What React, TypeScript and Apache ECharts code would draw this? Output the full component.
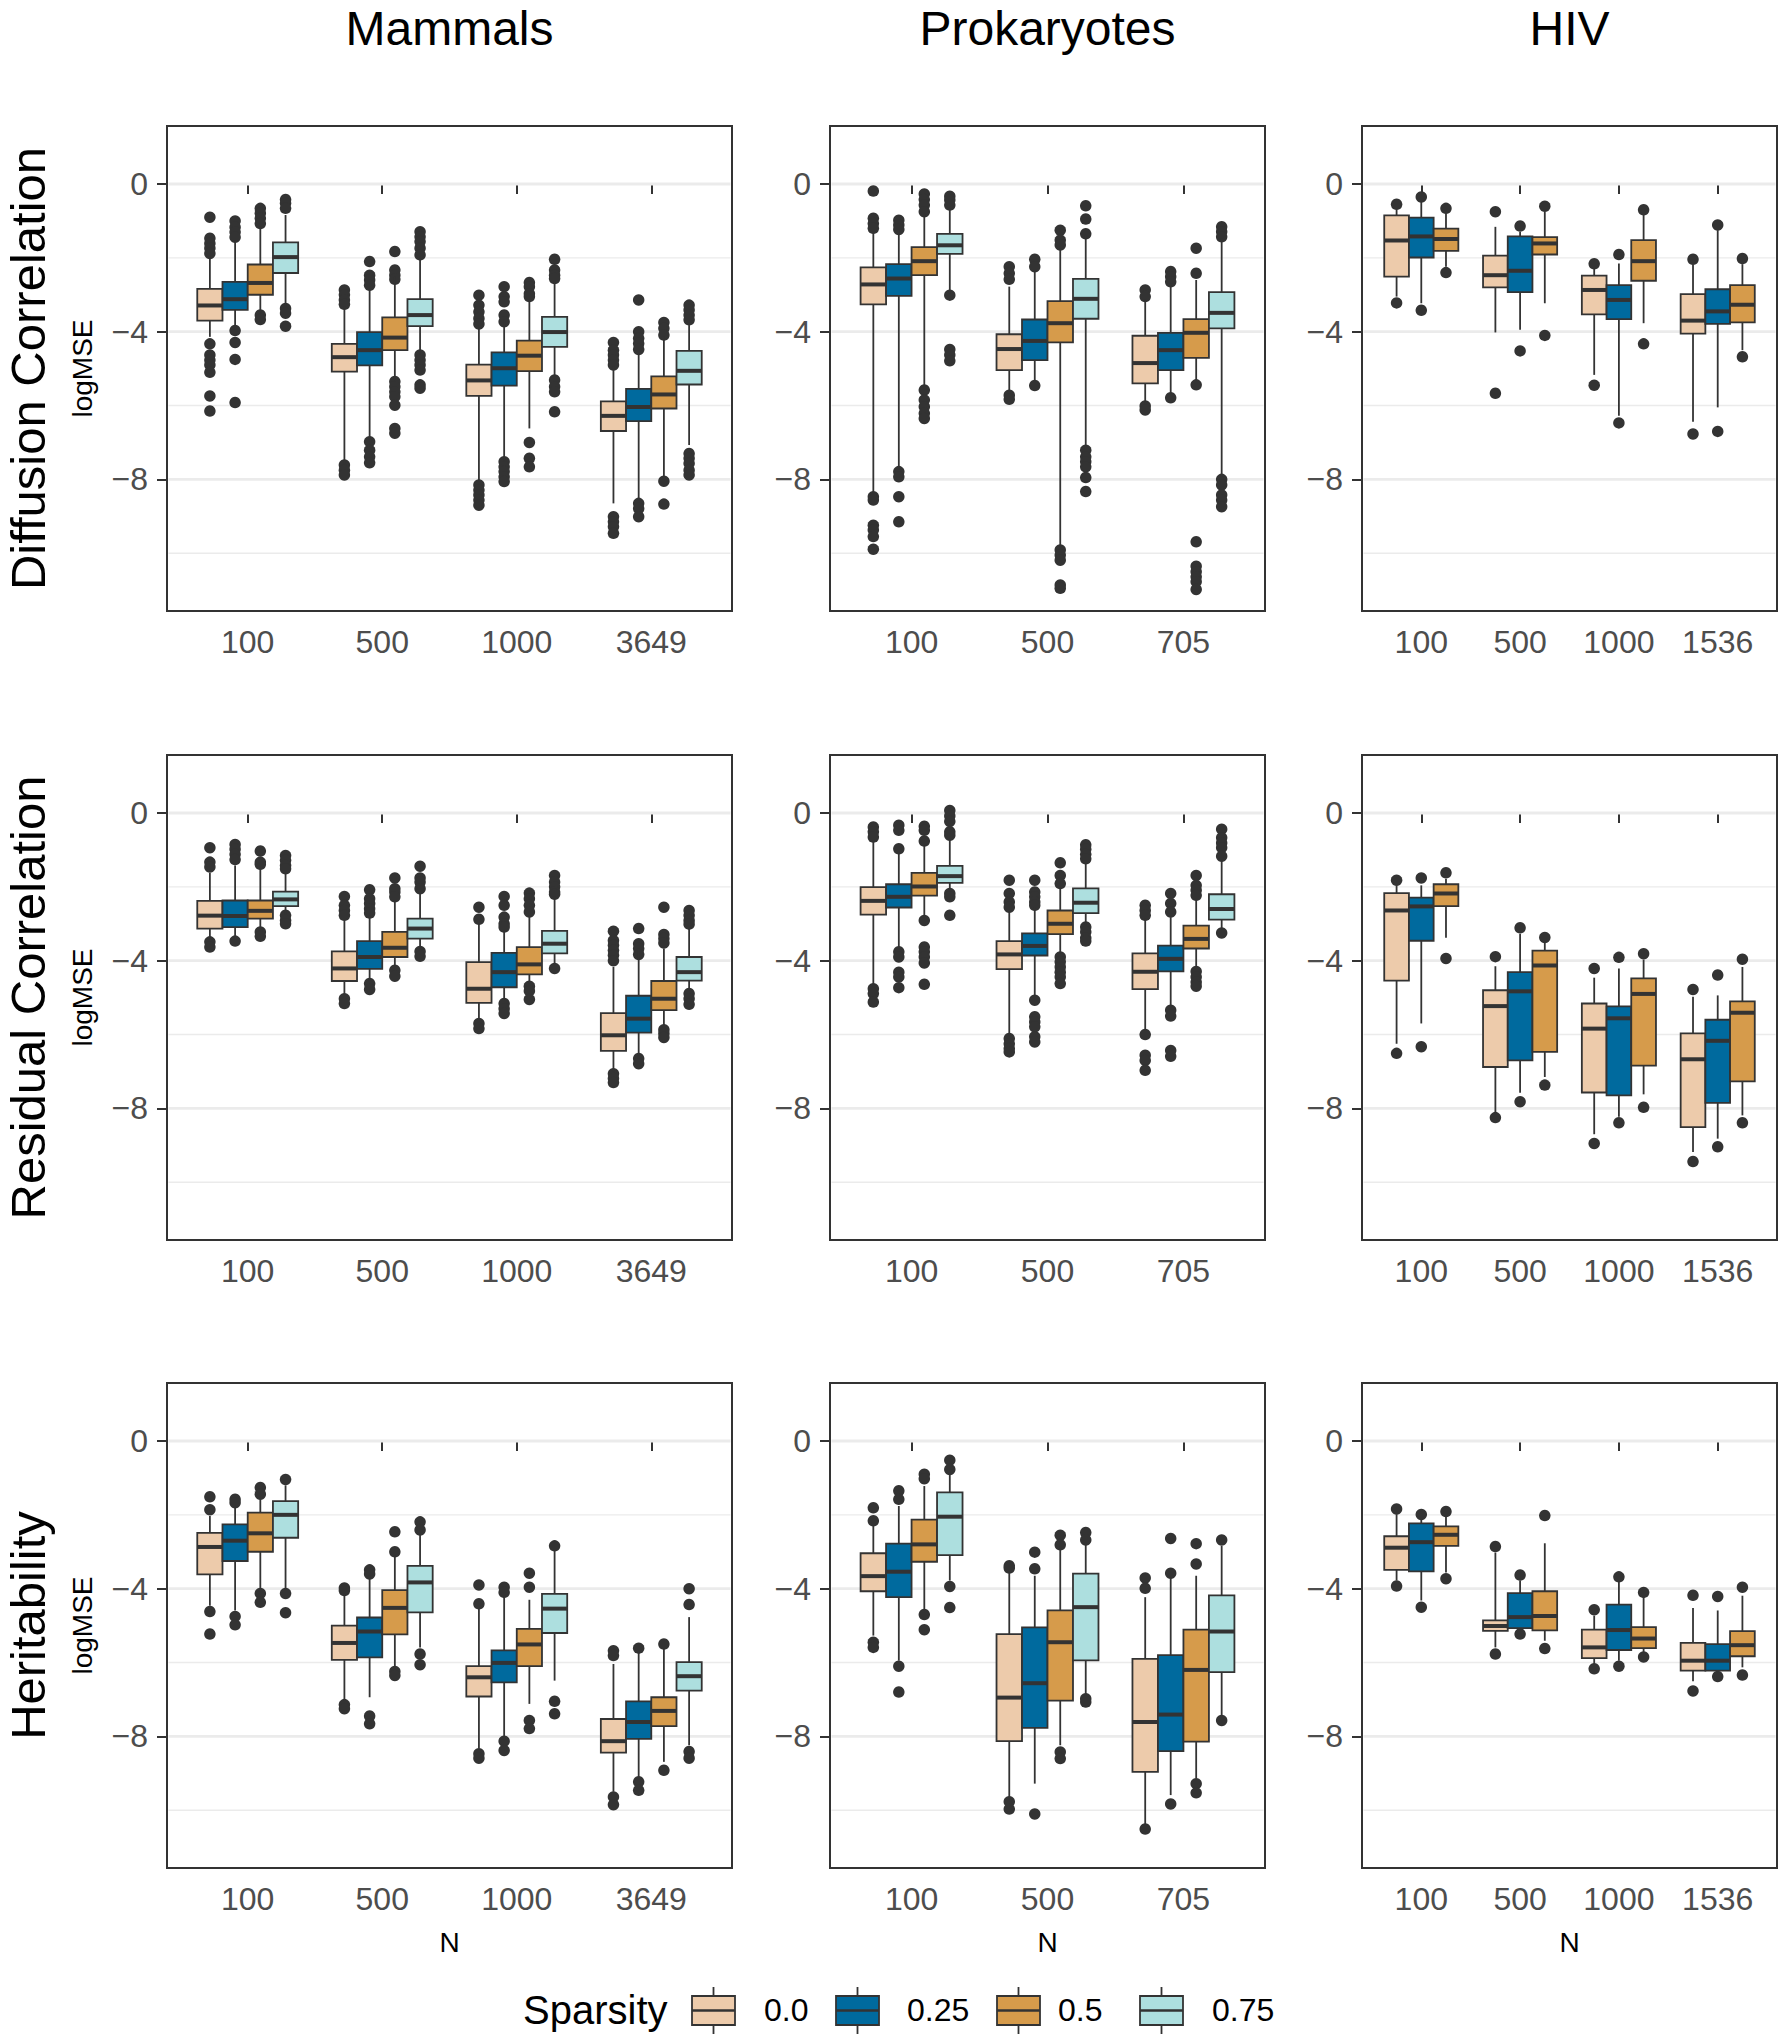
import React, { useEffect, useRef } from 'react';
import * as echarts from 'echarts';

const FONT = '"Liberation Sans", Arial, Helvetica, sans-serif';

// ---------- categories / labels ----------
const datasetNames = ['Mammals', 'Prokaryotes', 'HIV'];
const measureNames = ['Diffusion Correlation', 'Residual Correlation', 'Heritability'];
const nMammals = ['100', '500', '1000', '3649'];
const nProk = ['100', '500', '705'];
const nHIV = ['100', '500', '1000', '1536'];
const sparsityLevels = ['0.0', '0.25', '0.5', '0.75'];
const sparsityColors = ['#EDCBAB', '#006A9E', '#D69B4B', '#ADDFDF'];
const yTicks = [-8, -4, 0];
const yMinorBreaks = [-10, -6, -2];

// ---------- data: per N, per sparsity: [lowerWhisker, Q1, median, Q3, upperWhisker] ----------
// Diffusion correlation
const dcMammals = [
  [[-4.14, -3.70, -3.29, -2.84, -2.01], [-3.82, -3.41, -3.12, -2.65, -1.52], [-3.49, -3.00, -2.68, -2.18, -1.16], [-3.32, -2.41, -1.98, -1.58, -0.84]],
  [[-7.57, -5.08, -4.69, -4.33, -3.32], [-6.89, -4.91, -4.50, -4.01, -2.87], [-5.31, -4.50, -4.16, -3.61, -2.51], [-4.59, -3.85, -3.55, -3.12, -2.06]],
  [[-8.06, -5.74, -5.32, -4.89, -3.82], [-7.48, -5.46, -4.99, -4.56, -3.68], [-6.62, -5.07, -4.65, -4.24, -3.15], [-5.22, -4.41, -4.01, -3.60, -2.60]],
  [[-8.65, -6.69, -6.28, -5.89, -4.95], [-8.56, -6.42, -6.04, -5.55, -4.59], [-7.93, -6.08, -5.70, -5.21, -4.14], [-7.07, -5.43, -5.06, -4.52, -3.82]],
];
const dcMammalsOut = [
  [[-0.90, -1.47, -1.61, -1.74, -1.88, -4.33, -4.63, -4.77, -4.90, -5.10, -5.74, -6.15], [-1.00, -1.17, -1.30, -1.44, -3.97, -4.29, -4.75, -5.92], [-0.66, -0.79, -0.93, -1.07, -3.55, -3.67], [-0.42, -0.52, -0.66, -3.37, -3.50, -3.85]],
  [[-2.87, -3.00, -3.14, -3.26, -7.61, -7.75, -7.88], [-2.10, -2.47, -2.60, -2.74, -6.98, -7.21, -7.39, -7.55], [-1.83, -2.33, -2.47, -2.58, -5.35, -5.49, -5.63, -5.76, -5.99, -6.62, -6.75], [-1.29, -1.43, -1.56, -1.74, -1.92, -4.63, -4.77, -4.90, -5.04, -5.44, -5.53]],
  [[-3.01, -3.28, -3.46, -3.64, -3.79, -8.15, -8.29, -8.42, -8.56, -8.70], [-2.78, -3.05, -3.19, -3.55, -3.73, -7.52, -7.66, -7.79, -7.93, -8.06], [-2.67, -2.78, -2.97, -3.05, -7.00, -7.43, -7.66], [-2.04, -2.33, -2.47, -2.56, -5.31, -5.49, -5.63, -6.17]],
  [[-4.29, -4.50, -4.63, -4.77, -4.90, -9.01, -9.15, -9.28, -9.46], [-3.14, -4.00, -4.18, -4.32, -4.48, -8.65, -8.79, -9.01], [-3.75, -3.91, -4.09, -8.05, -8.67], [-3.28, -3.41, -3.55, -3.68, -7.30, -7.43, -7.57, -7.75, -7.88]],
];
const dcProk = [
  [[-8.38, -3.26, -2.72, -2.26, -1.29], [-7.70, -3.03, -2.56, -2.17, -1.25], [-5.49, -2.47, -2.09, -1.71, -0.79], [-2.96, -1.89, -1.66, -1.35, -0.63]],
  [[-5.58, -5.04, -4.47, -4.07, -2.78], [-5.31, -4.77, -4.25, -3.67, -2.37], [-9.82, -4.29, -3.77, -3.17, -1.74], [-7.12, -3.65, -3.11, -2.57, -1.38]],
  [[-5.94, -5.40, -4.85, -4.11, -3.14], [-5.67, -5.04, -4.50, -4.03, -2.69], [-5.31, -4.71, -4.03, -3.66, -2.60], [-7.93, -3.91, -3.49, -2.93, -1.47]],
];
const dcProkOut = [
  [[-0.19, -0.93, -1.07, -1.20, -8.47, -8.56, -9.24, -9.37, -9.55, -9.89], [-0.98, -1.11, -1.23, -7.79, -7.93, -8.47, -9.15], [-0.27, -0.42, -0.57, -0.75, -5.58, -5.85, -6.03, -6.21, -6.35], [-0.33, -0.43, -0.57, -3.01, -4.48, -4.63, -4.79]],
  [[-2.24, -2.42, -2.58, -5.72, -5.83], [-2.04, -2.24, -5.46], [-1.25, -1.52, -1.65, -9.91, -10.05, -10.19, -10.86, -10.95], [-0.59, -0.95, -1.35, -7.21, -7.39, -7.52, -7.66, -7.95, -8.33]],
  [[-2.87, -3.05, -6.01, -6.12], [-2.37, -2.51, -2.65, -5.79], [-1.74, -2.42, -5.44, -9.69, -10.35, -10.50, -10.64, -10.77, -10.98], [-1.16, -1.29, -1.43, -8.00, -8.15, -8.42, -8.56, -8.74]],
];
const dcHIV = [
  [[-3.05, -2.51, -1.53, -0.85, -0.69], [-3.23, -1.99, -1.42, -0.91, -0.48], [-2.24, -1.81, -1.49, -1.21, -0.79]],
  [[-4.02, -2.80, -2.47, -1.94, -1.16], [-3.95, -2.93, -2.35, -1.42, -1.29], [-3.23, -1.91, -1.61, -1.44, -0.75]],
  [[-5.17, -3.53, -2.87, -2.48, -2.28], [-6.28, -3.66, -3.14, -2.74, -2.15], [-3.77, -2.62, -2.09, -1.52, -0.84]],
  [[-6.44, -4.05, -3.70, -2.98, -2.18], [-6.05, -3.79, -3.45, -2.85, -1.25], [-4.50, -3.75, -3.27, -2.74, -2.17]],
];
const dcHIVOut = [
  [[-0.55, -3.22], [-0.35, -3.42], [-0.66, -2.40]],
  [[-0.75, -5.67], [-1.14, -4.52], [-0.60, -4.10]],
  [[-2.16, -5.45], [-1.91, -6.47], [-0.70, -4.33]],
  [[-2.04, -6.77], [-1.11, -6.70], [-2.02, -4.68]],
];

// Residual correlation
const rcMammals = [
  [[-3.40, -3.13, -2.78, -2.38, -1.62], [-3.36, -3.09, -2.79, -2.37, -1.42], [-3.13, -2.86, -2.65, -2.37, -1.51], [-2.73, -2.52, -2.34, -2.13, -1.64]],
  [[-4.94, -4.55, -4.21, -3.75, -2.91], [-4.53, -4.22, -3.90, -3.47, -2.77], [-4.15, -3.90, -3.65, -3.22, -2.36], [-3.67, -3.40, -3.13, -2.86, -2.18]],
  [[-5.55, -5.14, -4.76, -4.04, -3.00], [-5.03, -4.72, -4.31, -3.79, -3.18], [-4.62, -4.37, -4.10, -3.63, -2.77], [-4.08, -3.80, -3.54, -3.19, -2.27]],
  [[-7.01, -6.44, -6.02, -5.42, -4.17], [-6.56, -5.95, -5.57, -4.95, -3.72], [-5.75, -5.34, -5.03, -4.55, -3.67], [-4.80, -4.54, -4.31, -3.90, -3.13]],
];
const rcMammalsOut = [
  [[-0.94, -1.33, -1.46, -3.49, -3.63], [-0.85, -0.98, -1.12, -1.26, -3.47], [-1.03, -1.33, -1.39, -3.22, -3.34], [-1.15, -1.28, -1.42, -1.51, -2.77, -2.91, -3.00]],
  [[-2.26, -2.50, -2.64, -2.77, -5.03, -5.16], [-2.08, -2.32, -2.45, -2.59, -2.71, -4.62, -4.78], [-1.76, -2.05, -2.14, -2.27, -4.26, -4.42], [-1.44, -1.76, -1.87, -2.05, -3.75, -3.88]],
  [[-2.55, -2.88, -5.70, -5.84], [-2.26, -2.50, -2.82, -3.00, -3.09, -5.16, -5.30, -5.43], [-2.17, -2.32, -2.50, -2.68, -4.69, -4.82, -5.05], [-1.69, -1.87, -2.00, -2.14, -2.20, -4.21]],
  [[-3.20, -3.45, -3.58, -3.72, -3.85, -4.00, -7.06, -7.19, -7.30], [-3.13, -3.54, -3.67, -3.83, -6.65, -6.79], [-2.55, -3.29, -3.40, -3.52, -5.87, -5.97, -6.08], [-2.64, -2.77, -2.91, -3.01, -4.89, -5.03, -5.18]],
];
const rcProk = [
  [[-4.67, -2.75, -2.38, -2.01, -0.72], [-3.67, -2.56, -2.27, -1.93, -1.10], [-2.82, -2.24, -1.99, -1.62, -0.88], [-2.09, -1.89, -1.71, -1.43, -0.72]],
  [[-6.06, -4.23, -3.83, -3.47, -2.68], [-4.98, -3.86, -3.60, -3.26, -2.55], [-3.81, -3.28, -3.00, -2.64, -2.05], [-3.04, -2.71, -2.43, -2.04, -1.37]],
  [[-5.88, -4.77, -4.30, -3.80, -2.86], [-5.25, -4.29, -3.95, -3.59, -2.82], [-4.17, -3.67, -3.41, -3.05, -2.36], [-3.13, -2.89, -2.60, -2.20, -1.28]],
];
const rcProkOut = [
  [[-0.38, -0.51, -0.65, -4.76, -4.89, -5.12], [-0.33, -0.47, -0.97, -3.76, -3.90, -4.31, -4.44, -4.73], [-0.36, -0.47, -0.76, -2.91, -3.63, -3.76, -3.90, -4.06, -4.64], [0.07, -0.08, -0.23, -0.51, -0.60, -2.18, -2.27, -2.77]],
  [[-1.82, -2.18, -2.41, -2.55, -6.11, -6.25, -6.38, -6.47], [-1.82, -2.14, -2.27, -2.41, -2.50, -5.07, -5.52, -5.66, -5.79, -6.06, -6.20], [-1.35, -1.69, -1.91, -3.90, -4.03, -4.17, -4.31, -4.44, -4.62], [-0.86, -0.98, -1.12, -1.24, -3.09, -3.22, -3.38, -3.47]],
  [[-2.50, -2.64, -2.77, -6.00, -6.56, -6.70, -6.97], [-2.18, -2.45, -2.68, -5.34, -5.50, -6.43, -6.59], [-1.69, -1.96, -2.09, -2.23, -4.29, -4.44, -4.58, -4.69], [-0.44, -0.67, -0.81, -0.94, -1.17, -3.25]],
];
const rcHIV = [
  [[-6.25, -4.54, -2.64, -2.17, -1.96], [-5.70, -3.46, -2.53, -2.29, -1.96], [-3.38, -2.52, -2.18, -1.93, -1.78]],
  [[-8.10, -6.88, -5.23, -4.80, -4.15], [-7.58, -6.70, -4.83, -4.31, -3.27], [-7.15, -6.47, -4.13, -3.73, -3.52]],
  [[-8.70, -7.57, -5.84, -5.16, -4.46], [-8.23, -7.65, -5.56, -5.24, -4.21], [-7.62, -6.84, -4.90, -4.48, -3.97]],
  [[-9.18, -8.51, -6.67, -5.97, -4.98], [-8.82, -7.85, -6.17, -5.60, -4.94], [-8.19, -7.27, -5.41, -5.10, -4.17]],
];
const rcHIVOut = [
  [[-1.82, -6.51], [-1.76, -6.33], [-1.62, -3.94]],
  [[-3.89, -8.25], [-3.11, -7.82], [-3.37, -7.37]],
  [[-4.21, -8.95], [-3.91, -8.39], [-3.81, -7.97]],
  [[-4.78, -9.44], [-4.39, -9.04], [-3.96, -8.39]],
];

// Heritability
const hMammals = [
  [[-4.46, -3.61, -2.87, -2.49, -2.03], [-4.59, -3.25, -2.70, -2.26, -1.76], [-4.01, -3.00, -2.50, -1.94, -1.58], [-3.99, -2.62, -2.00, -1.63, -1.20]],
  [[-7.07, -5.93, -5.47, -5.00, -4.14], [-6.94, -5.86, -5.16, -4.78, -3.65], [-6.17, -5.24, -4.52, -4.04, -3.11], [-5.59, -4.64, -3.83, -3.38, -2.52]],
  [[-8.33, -6.92, -6.40, -6.10, -4.55], [-8.02, -6.54, -6.01, -5.67, -4.19], [-7.12, -6.10, -5.51, -5.09, -4.30], [-6.49, -5.20, -4.54, -4.14, -2.97]],
  [[-9.50, -8.44, -8.13, -7.53, -6.04], [-9.10, -8.07, -7.61, -7.05, -5.72], [-8.69, -7.72, -7.31, -6.94, -5.63], [-8.24, -6.76, -6.37, -5.99, -4.77]],
];
const hMammalsOut = [
  [[-1.51, -1.86, -4.62, -5.23], [-1.58, -1.67, -4.75, -4.98], [-1.26, -1.44, -4.13, -4.37], [-1.04, -4.13, -4.65]],
  [[-3.98, -4.05, -7.14, -7.25], [-3.49, -3.60, -7.45, -7.66], [-2.46, -3.00, -6.24, -6.35], [-2.19, -2.41, -5.77, -6.06]],
  [[-3.90, -4.41, -8.47, -8.59], [-3.96, -4.10, -8.13, -8.38], [-3.58, -3.96, -7.57, -7.79], [-2.84, -7.05, -7.39]],
  [[-5.68, -5.81, -9.64, -9.85], [-5.61, -9.23, -9.46], [-5.50, -8.92], [-4.00, -4.43, -8.41, -8.59]],
];
const hProk = [
  [[-5.27, -4.07, -3.66, -3.04, -2.30], [-5.95, -4.23, -3.54, -2.78, -1.76], [-4.55, -3.27, -2.80, -2.13, -1.22], [-3.78, -3.09, -2.05, -1.39, -0.90]],
  [[-9.64, -8.13, -6.95, -5.23, -3.56], [-9.28, -7.77, -6.56, -5.05, -3.65], [-8.24, -7.03, -5.45, -4.59, -2.84], [-6.89, -5.94, -4.50, -3.59, -2.75]],
  [[-10.41, -8.96, -7.61, -5.90, -4.23], [-9.59, -8.40, -7.41, -5.80, -3.69], [-9.14, -8.14, -6.20, -5.11, -3.65], [-7.43, -6.26, -5.16, -4.18, -2.84]],
];
const hProkOut = [
  [[-1.81, -2.16, -5.45, -5.59], [-1.35, -1.58, -6.10, -6.80], [-0.90, -1.02, -4.70, -5.11], [-0.52, -0.77, -3.94, -4.51]],
  [[-3.38, -3.44, -9.77, -9.97], [-3.01, -3.46, -10.10], [-2.55, -2.81, -8.42, -8.60], [-2.48, -2.68, -6.98, -7.07]],
  [[-3.71, -3.99, -10.51], [-2.64, -3.58, -9.83], [-2.78, -3.33, -9.28, -9.53], [-2.68, -7.57]],
];
const hHIV = [
  [[-3.78, -3.49, -2.89, -2.58, -1.98], [-4.32, -3.53, -2.74, -2.23, -2.12], [-3.56, -2.84, -2.54, -2.31, -2.05]],
  [[-5.59, -5.14, -5.01, -4.86, -3.02], [-5.07, -5.07, -4.77, -4.12, -3.78], [-5.41, -5.13, -4.74, -4.07, -2.77]],
  [[-6.04, -5.88, -5.59, -5.11, -4.73], [-5.95, -5.66, -5.12, -4.43, -3.81], [-5.72, -5.61, -5.35, -5.04, -4.23]],
  [[-6.51, -6.22, -5.95, -5.47, -4.52], [-6.26, -6.22, -5.95, -5.50, -4.59], [-6.13, -5.83, -5.53, -5.15, -4.19]],
];
const hHIVOut = [
  [[-1.84, -3.93], [-1.99, -4.50], [-1.91, -3.73]],
  [[-2.86, -5.77], [-3.63, -5.23], [-2.02, -5.62]],
  [[-4.57, -6.17], [-3.68, -6.10], [-4.10, -5.85]],
  [[-4.18, -6.77], [-4.21, -6.38], [-3.96, -6.34]],
];

// ---------- layout ----------
const colLeft = [167, 830, 1362];
const colWidth = [565, 435, 415];
const rowTop = [126, 755, 1383];
const panelHeight = 485;
const Y_MIN = -11.565;
const Y_MAX = 1.571;

const panels = [
  { stats: dcMammals, out: dcMammalsOut, cats: nMammals },
  { stats: dcProk, out: dcProkOut, cats: nProk },
  { stats: dcHIV, out: dcHIVOut, cats: nHIV },
  { stats: rcMammals, out: rcMammalsOut, cats: nMammals },
  { stats: rcProk, out: rcProkOut, cats: nProk },
  { stats: rcHIV, out: rcHIVOut, cats: nHIV },
  { stats: hMammals, out: hMammalsOut, cats: nMammals },
  { stats: hProk, out: hProkOut, cats: nProk },
  { stats: hHIV, out: hHIVOut, cats: nHIV },
];

const fmtY = (v: number) => (v < 0 ? '\u2212' + Math.abs(v) : String(v));

function renderGridLine(params: any, api: any) {
  const cs = params.coordSys;
  const p = api.coord([api.value(0), api.value(1)]);
  const major = api.value(2) === 1;
  return {
    type: 'line',
    shape: { x1: cs.x + 1.5, y1: p[1], x2: cs.x + cs.width - 1.5, y2: p[1] },
    style: { stroke: '#EBEBEB', lineWidth: major ? 2.8 : 1.4 },
    silent: true,
  };
}

function renderBox(params: any, api: any) {
  const x = api.value(0);
  const hw = api.value(6);
  const k = api.value(7);
  const lw = api.coord([x, api.value(1)]);
  const q1 = api.coord([x - hw, api.value(2)]);
  const med = api.coord([x, api.value(3)]);
  const q3 = api.coord([x + hw, api.value(4)]);
  const hi = api.coord([x, api.value(5)]);
  const stroke = '#333333';
  return {
    type: 'group',
    children: [
      { type: 'line', shape: { x1: lw[0], y1: lw[1], x2: hi[0], y2: hi[1] }, style: { stroke, lineWidth: 1.8 } },
      {
        type: 'rect',
        shape: { x: q1[0], y: q3[1], width: q3[0] - q1[0], height: q1[1] - q3[1] },
        style: { fill: sparsityColors[k], stroke, lineWidth: 1.8 },
      },
      { type: 'line', shape: { x1: q1[0], y1: med[1], x2: q3[0], y2: med[1] }, style: { stroke, lineWidth: 4 } },
    ],
  };
}

function buildOption() {
  const grid: any[] = [];
  const xAxis: any[] = [];
  const yAxis: any[] = [];
  const series: any[] = [];

  panels.forEach((p, i) => {
    const row = Math.floor(i / 3);
    const col = i % 3;
    grid.push({
      left: colLeft[col],
      top: rowTop[row],
      width: colWidth[col],
      height: panelHeight,
      show: true,
      backgroundColor: '#ffffff',
      borderColor: '#333333',
      borderWidth: 2,
      containLabel: false,
    });
    const n = p.cats.length;
    const catVals = p.cats.map((_, j) => j + 1);
    xAxis.push({
      gridIndex: i,
      type: 'value',
      min: 0.4,
      max: n + 0.6,
      axisLine: { show: false },
      splitLine: { show: false },
      axisTick: { show: true, customValues: catVals, length: 10, lineStyle: { color: '#333333', width: 2 } },
      axisLabel: {
        show: true,
        customValues: catVals,
        formatter: (v: number) => p.cats[Math.round(v) - 1] ?? '',
        fontSize: 32,
        fontFamily: FONT,
        color: '#4D4D4D',
        margin: 15,
      },
    });
    yAxis.push({
      gridIndex: i,
      type: 'value',
      min: Y_MIN,
      max: Y_MAX,
      axisLine: { show: false },
      splitLine: { show: false },
      axisTick: { show: true, customValues: yTicks, length: 10, lineStyle: { color: '#333333', width: 2 } },
      axisLabel: {
        show: true,
        customValues: yTicks,
        formatter: fmtY,
        fontSize: 32,
        fontFamily: FONT,
        color: '#4D4D4D',
        margin: 19,
      },
    });

    const gridData = [
      ...yTicks.map((v) => [1, v, 1]),
      ...yMinorBreaks.map((v) => [1, v, 0]),
    ];
    series.push({
      type: 'custom',
      xAxisIndex: i,
      yAxisIndex: i,
      silent: true,
      z: 1,
      data: gridData,
      encode: { x: 0, y: 1 },
      renderItem: renderGridLine,
    });

    const K = p.stats[0].length;
    const w = 0.75 / K;
    const boxData: number[][] = [];
    const outData: number[][] = [];
    p.stats.forEach((catBoxes, j) => {
      catBoxes.forEach((b, k) => {
        const xc = j + 1 + (k - (K - 1) / 2) * w;
        boxData.push([xc, b[0], b[1], b[2], b[3], b[4], w / 2, k]);
        p.out[j][k].forEach((v) => outData.push([xc, v]));
      });
    });
    series.push({
      type: 'scatter',
      xAxisIndex: i,
      yAxisIndex: i,
      silent: true,
      z: 2,
      symbol: 'circle',
      symbolSize: 11.5,
      itemStyle: { color: '#333333', opacity: 1 },
      data: outData,
    });
    series.push({
      type: 'custom',
      xAxisIndex: i,
      yAxisIndex: i,
      silent: true,
      z: 3,
      data: boxData,
      encode: { x: 0, y: 3 },
      renderItem: renderBox,
    });
  });

  // ---------- text & legend graphics ----------
  const elements: any[] = [];
  datasetNames.forEach((name, c) => {
    elements.push({
      type: 'text',
      x: colLeft[c] + colWidth[c] / 2,
      y: 28,
      style: { text: name, fontSize: 48, fontFamily: FONT, fill: '#000000', align: 'center', verticalAlign: 'middle', textAlign: 'center', textVerticalAlign: 'middle' },
    });
    elements.push({
      type: 'text',
      x: colLeft[c] + colWidth[c] / 2,
      y: 1942,
      style: { text: 'N', fontSize: 28, fontFamily: FONT, fill: '#000000', align: 'center', verticalAlign: 'middle', textAlign: 'center', textVerticalAlign: 'middle' },
    });
  });
  measureNames.forEach((name, r) => {
    const cy = rowTop[r] + panelHeight / 2;
    elements.push({
      type: 'text',
      x: 28,
      y: cy,
      rotation: Math.PI / 2,
      style: { text: name, fontSize: 49, fontFamily: FONT, fill: '#000000', align: 'center', verticalAlign: 'middle', textAlign: 'center', textVerticalAlign: 'middle' },
    });
    elements.push({
      type: 'text',
      x: 82,
      y: cy,
      rotation: Math.PI / 2,
      style: { text: 'logMSE', fontSize: 28, fontFamily: FONT, fill: '#000000', align: 'center', verticalAlign: 'middle', textAlign: 'center', textVerticalAlign: 'middle' },
    });
  });

  // legend
  const legendY = 2010;
  elements.push({
    type: 'text',
    x: 523,
    y: legendY,
    style: { text: 'Sparsity', fontSize: 40, fontFamily: FONT, fill: '#000000', align: 'left', verticalAlign: 'middle', textAlign: 'left', textVerticalAlign: 'middle' },
  });
  const keyX = [692, 836, 997, 1140];
  const labelX = [764, 907, 1058, 1212];
  sparsityLevels.forEach((lab, k) => {
    const kx = keyX[k];
    const cx = kx + 21.5;
    elements.push({ type: 'line', shape: { x1: cx, y1: 1987, x2: cx, y2: 2034 }, style: { stroke: '#333333', lineWidth: 1.8 } });
    elements.push({ type: 'rect', shape: { x: kx, y: 1996, width: 43, height: 29 }, style: { fill: sparsityColors[k], stroke: '#333333', lineWidth: 1.8 } });
    elements.push({ type: 'line', shape: { x1: kx, y1: 2010.5, x2: kx + 43, y2: 2010.5 }, style: { stroke: '#333333', lineWidth: 2.5 } });
    elements.push({
      type: 'text',
      x: labelX[k],
      y: legendY,
      style: { text: lab, fontSize: 32, fontFamily: FONT, fill: '#000000', align: 'left', verticalAlign: 'middle', textAlign: 'left', textVerticalAlign: 'middle' },
    });
  });

  return {
    animation: false,
    backgroundColor: '#ffffff',
    textStyle: { fontFamily: FONT },
    grid,
    xAxis,
    yAxis,
    series,
    graphic: { elements },
  };
}

export default function App() {
  const ref = useRef<HTMLDivElement>(null);
  useEffect(() => {
    if (!ref.current) return;
    const chart = echarts.init(ref.current, undefined, { renderer: 'svg' });
    chart.setOption(buildOption() as any);
    return () => chart.dispose();
  }, []);
  return (
    <div
      ref={ref}
      style={{ position: 'absolute', left: 0, top: 0, width: 1787, height: 2040, background: '#ffffff' }}
    />
  );
}
